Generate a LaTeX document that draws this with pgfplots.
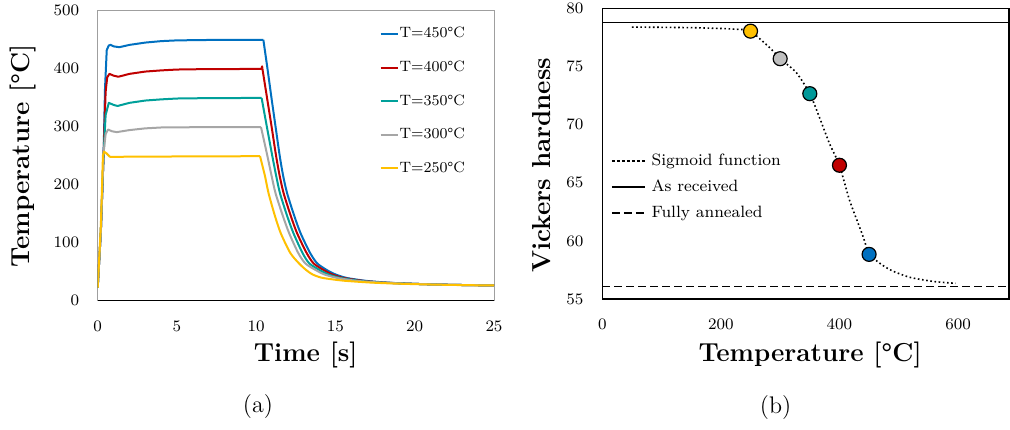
\documentclass[border=0pt]{standalone}
\usepackage{fontspec}
\usepackage{pgfplots}
\pgfplotsset{compat=1.18}
\definecolor{cblue}{HTML}{0070C0}
\definecolor{cred}{HTML}{C00000}
\definecolor{cteal}{HTML}{00A09A}
\definecolor{cgray}{HTML}{A6A6A6}
\definecolor{cyellow}{HTML}{FFC000}
\definecolor{mgray}{HTML}{BFBFBF}
\definecolor{mteal}{HTML}{009999}
\begin{document}
\begin{tikzpicture}
\path[use as bounding box] (0,0) rectangle (505pt,214.5pt);
% ---------------- (a) ----------------
\begin{axis}[
  at={(48.85pt,64.25pt)}, anchor=south west,
  width=198.15pt, height=144.9pt, scale only axis,
  xmin=0, xmax=25, ymin=0, ymax=500,
  xtick={0,5,...,25}, ytick={0,100,...,500},
  major tick length=0pt,
  axis line style={color=gray!75},
  tick label style={font=\fontsize{8.3}{10}\selectfont},
  yticklabel style={xshift=-5.7pt},
  xticklabel style={yshift=-6.8pt},
  xlabel={\textbf{Time [s]}}, ylabel={\textbf{Temperature [°C]}},
  label style={font=\fontsize{13}{15}\selectfont},
  xlabel style={at={(axis description cs:0.525,-0.188)}, anchor=center},
  ylabel style={at={(axis description cs:-0.1885,0.499)}, anchor=center, rotate=0},
  legend style={draw=none, fill=none, inner sep=0pt, outer sep=0pt,
    at={(0.7116,0.944)}, anchor=north west,
    font=\fontsize{7.5}{9}\selectfont, row sep=9.8pt, column sep=0.5pt,
    nodes={inner sep=0pt, text height=5.5pt, text depth=1.5pt}},
  legend cell align=left,
  legend image code/.code={\draw[#1] (0pt,0pt) -- (8.5pt,0pt);},
  every axis plot/.append style={line width=1pt, line join=round},
]
% heating and holding
\addplot[cblue] coordinates {
(0,22) (0.2,120) (0.37,250) (0.46,365) (0.57,432) (0.7,440) (0.82,441) (1.0,438.5) (1.36,437)
(2,441) (3,445) (4,447.5) (5,448.8) (7,449.5) (10.45,449.8)};
\addlegendentry{T=450°C}
\addplot[cred] coordinates {
(0,22) (0.2,120) (0.37,250) (0.5,360) (0.6,385) (0.74,391) (1.0,388) (1.3,386) (2,391) (3,395)
(4,397) (5,398.5) (7,399.3) (10.33,399.5) (10.37,404) (10.39,400)};
\addlegendentry{T=400°C}
\addplot[cteal] coordinates {
(0,22) (0.2,120) (0.37,250) (0.5,320) (0.7,341) (1.0,337.5) (1.25,335.6) (2,341) (3,345) (4,347)
(5,348.5) (7,349.2) (10.34,349.5)};
\addlegendentry{T=350°C}
\addplot[cgray] coordinates {
(0,22) (0.2,120) (0.37,255) (0.5,287) (0.65,295) (0.9,292) (1.2,290.5) (2,294) (3,297) (4,298.5)
(7,299.2) (10.3,299.3)};
\addlegendentry{T=300°C}
\addplot[cyellow] coordinates {
(0,22) (0.2,130) (0.33,250) (0.4,256.8) (0.55,254) (0.77,248) (1.5,248) (5,248.5) (10.24,249)};
\addlegendentry{T=250°C}
% cooling
\addplot[cblue, smooth, tension=0.45, forget plot] coordinates {
(10.45,449.8) (10.71,400) (10.96,350) (11.22,300) (11.48,250) (11.7,215) (11.95,185) (12.4,146)
(12.8,116) (13.4,82) (13.85,64) (14.45,52.6) (15.0,45) (15.7,39) (16.9,34) (18.2,31) (19.7,29)
(21.5,27.5) (23.5,26.5) (25,26)};
\addplot[cred, smooth, tension=0.45, forget plot] coordinates {
(10.39,400) (10.68,350) (10.97,300) (11.25,250) (11.48,215) (11.73,185) (12.18,146) (12.58,116)
(13.18,82) (13.62,64) (14.25,52.6) (14.8,45) (15.5,39) (16.7,34) (18.0,31) (19.7,29) (21.5,27.5)
(23.5,26.5) (25,26)};
\addplot[cteal, smooth, tension=0.45, forget plot] coordinates {
(10.34,349.5) (10.67,300) (11.01,250) (11.26,215) (11.5,185) (11.95,146) (12.35,116) (12.92,82)
(13.35,64) (14.0,52.6) (14.55,45) (15.3,39) (16.5,34) (17.9,31) (19.7,29) (21.5,27.5) (23.5,26.5)
(25,26)};
\addplot[cgray, smooth, tension=0.45, forget plot] coordinates {
(10.3,299.3) (10.7,250) (10.97,215) (11.22,185) (11.68,146) (12.08,116) (12.65,82) (13.1,64)
(13.75,52.6) (14.3,45) (15.1,39) (16.3,34) (17.8,31) (19.6,29) (21.5,27.5) (23.5,26.5) (25,26)};
\addplot[cyellow, smooth, tension=0.45, forget plot] coordinates {
(10.24,249) (10.55,215) (10.78,185) (11.18,146) (11.55,116) (12.15,82) (12.7,64) (13.15,52.6)
(13.55,45) (14.1,39.5) (14.8,36.5) (15.6,34) (17.2,31) (19.0,29) (21.5,27.3) (23.5,26.4) (25,26)};
\draw[black, line width=0.8pt] (rel axis cs:0,0) -- (rel axis cs:1,0);
\end{axis}
% ---------------- (b) ----------------
\begin{axis}[
  at={(301.15pt,65pt)}, anchor=south west,
  width=203.35pt, height=145.25pt, scale only axis,
  xmin=0, xmax=686, ymin=55, ymax=80,
  xtick={0,200,400,600}, ytick={55,60,...,80},
  major tick length=0pt,
  axis line style={color=black, line width=0.6pt},
  tick label style={font=\fontsize{8.3}{10}\selectfont},
  yticklabel style={xshift=-5.9pt},
  xticklabel style={yshift=-6.6pt},
  xlabel={\textbf{Temperature [°C]}}, ylabel={\textbf{Vickers hardness}},
  label style={font=\fontsize{13}{15}\selectfont},
  xlabel style={at={(axis description cs:0.511,-0.193)}, anchor=center},
  ylabel style={at={(axis description cs:-0.149,0.461)}, anchor=center, rotate=0},
  legend style={draw=none, fill=none, inner sep=0pt, outer sep=0pt,
    at={(0.0204,0.502)}, anchor=north west,
    font=\fontsize{8.2}{10}\selectfont, row sep=5pt, column sep=2.5pt,
    nodes={inner sep=0pt, text height=6pt, text depth=2pt}},
  legend cell align=left,
  legend image code/.code={\draw[#1] (0pt,0pt) -- (16.7pt,0pt);},
]
\addplot[black, line width=0.8pt, dash pattern=on 0.8pt off 1.3pt, smooth, tension=0.4,
  legend image post style={line width=1.3pt, dash pattern=on 1.3pt off 1.2pt}] coordinates {
(50,78.4) (100,78.38) (150,78.35) (200,78.28) (230,78.2) (250,78.05) (285,76.5) (300,75.68)
(327,74.5) (350,72.67) (366,70.66) (383,68.4) (400,66.5) (417,63.5) (439,60.5) (450,58.9)
(470,58.0) (490,57.4) (520,56.85) (560,56.5) (596,56.35)};
\addlegendentry{Sigmoid function}
\addplot[black, line width=0.7pt] coordinates {(0,78.8) (686,78.8)};
\addlegendentry{As received}
\addplot[black, line width=0.7pt, dash pattern=on 4pt off 2pt] coordinates {(0,56.1) (686,56.1)};
\addlegendentry{Fully annealed}
\addplot[only marks, mark=*, mark size=3.5pt, mark options={draw=black, fill=cyellow, line width=0.6pt}, forget plot] coordinates {(250,78.05)};
\addplot[only marks, mark=*, mark size=3.5pt, mark options={draw=black, fill=mgray, line width=0.6pt}, forget plot] coordinates {(300,75.68)};
\addplot[only marks, mark=*, mark size=3.5pt, mark options={draw=black, fill=mteal, line width=0.6pt}, forget plot] coordinates {(350,72.67)};
\addplot[only marks, mark=*, mark size=3.5pt, mark options={draw=black, fill=cred, line width=0.6pt}, forget plot] coordinates {(400,66.51)};
\addplot[only marks, mark=*, mark size=3.5pt, mark options={draw=black, fill=cblue, line width=0.6pt}, forget plot] coordinates {(450,58.84)};
\end{axis}
\node at (129pt,11pt) {\fontsize{12}{14}\selectfont (a)};
\node at (387.8pt,10.5pt) {\fontsize{12}{14}\selectfont (b)};
\end{tikzpicture}
\end{document}
